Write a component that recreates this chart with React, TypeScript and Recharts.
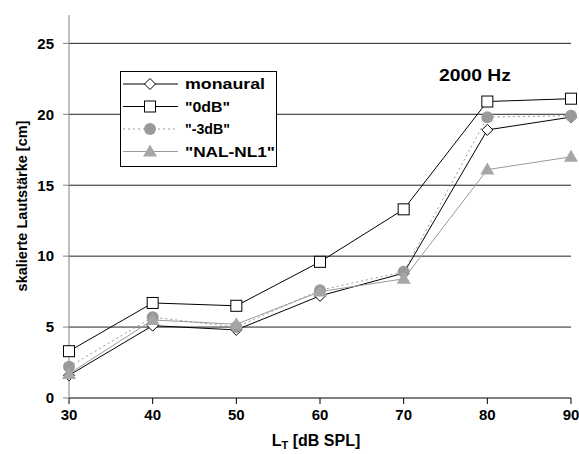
import { LineChart, Line, XAxis, YAxis, CartesianGrid } from 'recharts';

const levels = [30, 40, 50, 60, 70, 80, 90];
const monaural = [1.6, 5.1, 4.8, 7.2, 8.8, 18.9, 19.8];
const zeroDb = [3.3, 6.7, 6.5, 9.6, 13.3, 20.9, 21.1];
const minus3Db = [2.2, 5.7, 5.0, 7.6, 8.9, 19.8, 19.9];
const nalNl1 = [1.7, 5.5, 5.2, 7.5, 8.4, 16.1, 17.0];
const yTicks = [0, 5, 10, 15, 20, 25];

const data = levels.map((lt, i) => ({
  lt,
  monaural: monaural[i],
  zeroDb: zeroDb[i],
  minus3Db: minus3Db[i],
  nalNl1: nalNl1[i],
}));

const font = '"Liberation Sans", Arial, sans-serif';
const GRAY = '#9a9a9a';

type Shape = 'diamond' | 'square' | 'circle' | 'triangle';

function marker(shape: Shape, cx: number, cy: number, key?: string) {
  if (shape === 'diamond') {
    return <polygon key={key} points={`${cx},${cy - 5.5} ${cx + 5.5},${cy} ${cx},${cy + 5.5} ${cx - 5.5},${cy}`} fill="#fff" stroke="#000" strokeWidth={1} />;
  }
  if (shape === 'square') {
    return <rect key={key} x={cx - 5.5} y={cy - 5.5} width={11} height={11} fill="#fff" stroke="#000" strokeWidth={1} />;
  }
  if (shape === 'circle') {
    return <circle key={key} cx={cx} cy={cy} r={6} fill={GRAY} />;
  }
  return <polygon key={key} points={`${cx},${cy - 7} ${cx + 7},${cy + 5} ${cx - 7},${cy + 5}`} fill="#a6a6a6" />;
}

const dotOf = (shape: Shape) => (props: any) => marker(shape, props.cx, props.cy, `${shape}-${props.index}`);

const series = [
  { key: 'monaural', name: 'monaural', shape: 'diamond' as Shape, color: '#000', dash: undefined, len: 80 },
  { key: 'zeroDb', name: '"0dB"', shape: 'square' as Shape, color: '#000', dash: undefined, len: 45 },
  { key: 'minus3Db', name: '"-3dB"', shape: 'circle' as Shape, color: GRAY, dash: '2 3', len: 45 },
  { key: 'nalNl1', name: '"NAL-NL1"', shape: 'triangle' as Shape, color: GRAY, dash: undefined, len: 90 },
];

function LegendBox() {
  return (
    <svg width={158} height={97} style={{ position: 'absolute', left: 120, top: 71, display: 'block' }}>
      <rect x={0.5} y={0.5} width={156} height={95} fill="#fff" stroke="#000" strokeWidth={1} />
      {series.map((s, i) => {
        const y = 13 + i * 22.5;
        return (
          <g key={s.key}>
            <line x1={3} x2={58} y1={y} y2={y} stroke={s.color} strokeWidth={1} strokeDasharray={s.dash} />
            {marker(s.shape, 30, y)}
            <text x={65} y={y + 5} fontFamily={font} fontWeight="bold" fontSize={14} fill="#000" textLength={s.len} lengthAdjust="spacingAndGlyphs">{s.name}</text>
          </g>
        );
      })}
    </svg>
  );
}

export default function App() {
  return (
    <div style={{ position: 'absolute', left: 0, top: 0, width: 579, height: 454, background: '#fff' }}>
      <LineChart width={579} height={454} data={data} margin={{ top: 15, right: 8, left: 0, bottom: 0 }}>
        <CartesianGrid horizontal vertical={false} stroke="#222" horizontalValues={[5, 10, 15, 20, 25]} />
        <XAxis
          dataKey="lt"
          type="number"
          domain={[30, 90]}
          ticks={levels}
          height={56}
          stroke="#000"
          tickSize={6}
          tickMargin={5}
          tick={{ fontSize: 15, fontWeight: 'bold', fill: '#000', fontFamily: font }}
        />
        <YAxis
          type="number"
          domain={[0, 27]}
          ticks={yTicks}
          width={69}
          stroke="#808080"
          tickSize={6}
          tickMargin={9}
          tick={{ fontSize: 15, fontWeight: 'bold', fill: '#000', fontFamily: font }}
        />
        {series.map((s) => (
          <Line
            key={s.key}
            dataKey={s.key}
            name={s.name}
            type="linear"
            stroke={s.color}
            strokeWidth={1}
            strokeDasharray={s.dash}
            dot={dotOf(s.shape)}
            activeDot={false}
            isAnimationActive={false}
          />
        ))}
        <text x={475} y={81} textAnchor="middle" fontFamily={font} fontWeight="bold" fontSize={16.5} fill="#000" textLength={72} lengthAdjust="spacingAndGlyphs">2000 Hz</text>
        <text x={22} y={206} transform="rotate(-90 22 206)" textAnchor="middle" dominantBaseline="central" fontFamily={font} fontWeight="bold" fontSize={14.5} fill="#000">skalierte Lautstärke [cm]</text>
        <text x={316} y={446} textAnchor="middle" fontFamily={font} fontWeight="bold" fontSize={16} fill="#000">
          L<tspan fontSize={11} dy={3}>T</tspan><tspan dy={-3}> [dB SPL]</tspan>
        </text>
      </LineChart>
      <LegendBox />
    </div>
  );
}
